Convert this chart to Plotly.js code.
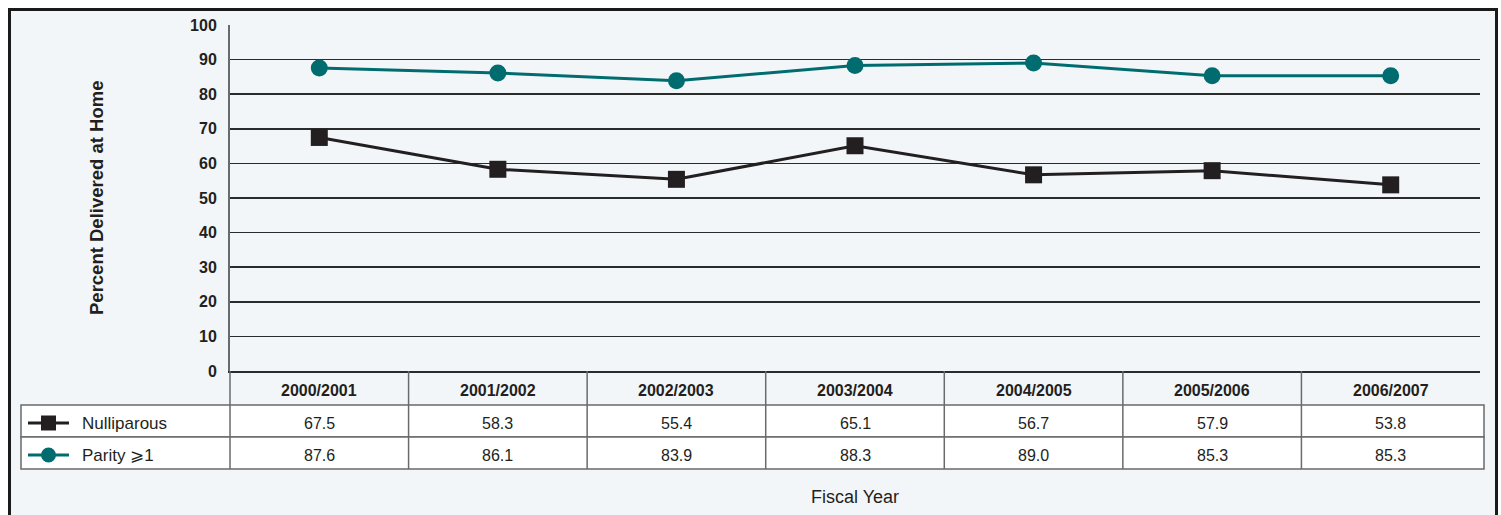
<!DOCTYPE html>
<html>
<head>
<meta charset="utf-8">
<script src="https://cdn.plot.ly/plotly-3.0.1.min.js"></script>
<style>html,body{margin:0;padding:0;background:#fff;}#chart{width:1501px;height:515px;}</style>
</head>
<body>
<div id="chart"></div>
<script>
const categories = ["2000/2001","2001/2002","2002/2003","2003/2004","2004/2005","2005/2006","2006/2007"];
const nulliparous = [67.5, 58.3, 55.4, 65.1, 56.7, 57.9, 53.8];
const parity = [87.6, 86.1, 83.9, 88.3, 89.0, 85.3, 85.3];
const seriesNames = ["Nulliparous", "Parity \u2A7E1"];
const yTicks = [0,10,20,30,40,50,60,70,80,90,100];

const W = 1501, H = 515;
const L = 230, R = 1480, T = 25, B = 371;
const px = x => (x - L) / (R - L);
const py = y => (B - y) / (B - T);

const BG = '#f3f6f8', TEAL = '#006c6f', DARK = '#231f20', CELL = '#6a6a6a';
const FONT = 'Liberation Sans, Arial, sans-serif';
const idx = categories.map((c,i)=>i);

const traces = [
  {x: idx, y: nulliparous, name: seriesNames[0], mode: 'lines+markers', type: 'scatter',
   line: {color: DARK, width: 3}, marker: {symbol: 'square', size: 17, color: DARK}, hoverinfo: 'none'},
  {x: idx, y: parity, name: seriesNames[1], mode: 'lines+markers', type: 'scatter',
   line: {color: TEAL, width: 3}, marker: {symbol: 'circle', size: 17, color: TEAL}, hoverinfo: 'none'}
];

const shapes = [];
const annotations = [];
// outer frame
shapes.push({type:'rect', xref:'paper', yref:'paper', x0:px(9.5), x1:px(1496.5), y0:py(530), y1:py(9.5),
  line:{color:'#1a1a1a', width:3}, fillcolor:BG, layer:'below'});
// table rows (white)
const rowTops = [405, 437];
const rowH = 32;
rowTops.forEach(t => {
  shapes.push({type:'rect', xref:'paper', yref:'paper', x0:px(21), x1:px(1484), y0:py(t+rowH), y1:py(t),
    line:{color:CELL, width:1.5}, fillcolor:'#ffffff', layer:'below'});
});
// column separators
for (let k = 0; k < categories.length; k++) {
  shapes.push({type:'line', xref:'paper', yref:'paper', x0:k/categories.length, x1:k/categories.length,
    y0:py(469), y1:py(371), line:{color:CELL, width:1.5}});
}
// header labels and values
const colCenter = i => (i + 0.5) / categories.length;
categories.forEach((c, i) => {
  annotations.push({xref:'paper', yref:'paper', x:colCenter(i), y:py(390), text:c, showarrow:false,
    font:{family:FONT, size:16, color:DARK, weight:'bold'}, xanchor:'center', yanchor:'middle'});
});
[nulliparous, parity].forEach((arr, r) => {
  arr.forEach((v, i) => {
    annotations.push({xref:'paper', yref:'paper', x:colCenter(i), y:py(rowTops[r] + rowH/2 + 2), text:v.toFixed(1),
      showarrow:false, font:{family:FONT, size:16, color:DARK}, xanchor:'center', yanchor:'middle'});
  });
});
// legend in table
const legColors = [DARK, TEAL];
seriesNames.forEach((n, r) => {
  const cy = rowTops[r] + rowH/2 + 2;
  shapes.push({type:'line', xref:'paper', yref:'paper', x0:px(28), x1:px(69), y0:py(cy), y1:py(cy),
    line:{color:legColors[r], width:3}});
  if (r === 0) {
    shapes.push({type:'rect', xref:'paper', yref:'paper', x0:px(41), x1:px(56), y0:py(cy+7.5), y1:py(cy-7.5),
      line:{width:0}, fillcolor:legColors[r]});
  } else {
    shapes.push({type:'circle', xref:'paper', yref:'paper', x0:px(41), x1:px(56), y0:py(cy+7.5), y1:py(cy-7.5),
      line:{width:0}, fillcolor:legColors[r]});
  }
  annotations.push({xref:'paper', yref:'paper', x:px(80), y:py(cy), text:n, showarrow:false,
    font:{family:FONT, size:17, color:DARK}, xanchor:'left', yanchor:'middle'});
});
// axis titles
annotations.push({xref:'paper', yref:'paper', x:colCenter(3), y:py(497), text:'Fiscal Year', showarrow:false,
  font:{family:FONT, size:18, color:DARK}, xanchor:'center', yanchor:'middle'});
annotations.push({xref:'paper', yref:'paper', x:px(96), y:py(198), text:'Percent Delivered at Home', showarrow:false,
  textangle:-90, font:{family:FONT, size:18.5, color:DARK, weight:'bold'}, xanchor:'center', yanchor:'middle'});

const layout = {
  width: W, height: H,
  margin: {l: L, r: W - R, t: T, b: H - B, pad: 0},
  paper_bgcolor: '#ffffff', plot_bgcolor: 'rgba(0,0,0,0)',
  showlegend: false,
  xaxis: {range: [-0.5, categories.length - 0.5], showgrid: false, zeroline: false, showticklabels: false,
    showline: true, linecolor: '#2b2b2b', linewidth: 1.5, ticks: '', fixedrange: true},
  yaxis: {range: [0, 100], tickvals: yTicks, ticktext: yTicks.map(String), showgrid: true, gridcolor: '#2b2b2b', gridwidth: 1.5,
    zeroline: false, showline: true, linecolor: '#6a6a6a', linewidth: 2, ticks: '', ticklabelstandoff: 8,
    tickfont: {family: FONT, size: 16, color: DARK, weight: 'bold'},
    automargin: false, fixedrange: true},
  shapes: shapes,
  annotations: annotations
};

Plotly.newPlot('chart', traces, layout, {displayModeBar: false, staticPlot: true});
</script>
</body>
</html>
